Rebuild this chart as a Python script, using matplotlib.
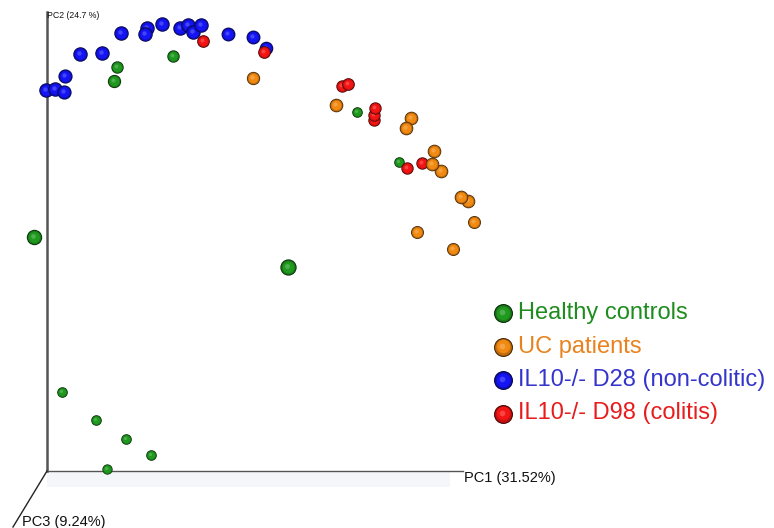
import matplotlib
matplotlib.use("Agg")
import matplotlib.pyplot as plt
from matplotlib.colors import to_rgb
from matplotlib.transforms import offset_copy
import numpy as np

plt.rcParams['font.family'] = ['Liberation Sans', 'DejaVu Sans']

# projected PCoA coordinates (PC1, PC2) and depth (PC3) for each group
healthy_pc1 = [-13, 241, 70, 67, 126, 310, 352, 15, 49, 79, 104, 60]
healthy_pc2 = [234, 204, 404, 390, 415, 359, 309, 79, 51, 32, 16, 2]
healthy_pc3 = [1.3, 1.6, 0.3, 0.6, 0.3, -0.3, -0.3, -0.3, -0.3, -0.3, -0.3, -0.4]

uc_pc1 = [206, 289, 364, 359, 387, 394, 385, 421, 414, 427, 370, 406]
uc_pc2 = [393, 366, 353, 343, 320, 300, 307, 270, 274, 249, 239, 222]
uc_pc3 = [0.6, 0.7, 0.7, 0.7, 0.7, 0.7, 0.7, 0.7, 0.7, 0.5, 0.5, 0.5]

d28_pc1 = [74, 100, 98, 115, 133, 141, 146, 154, 181, 206, 219, 33, 55, 18, -1, 8, 17]
d28_pc2 = [438, 443, 437, 447, 443, 446, 439, 446, 437, 434, 423, 417, 418, 395, 381, 382, 379]
d28_pc3 = [1, 1, 1, 1, 1, 1, 1, 1, 0.8, 0.8, 0.7, 1, 1, 0.9, 1, 1, 0.9]

d98_pc1 = [156, 217, 295, 301, 327, 327, 328, 360, 375]
d98_pc2 = [430, 419, 385, 387, 351, 356, 363, 303, 308]
d98_pc3 = [0.4, 0.4, 0.3, 0.4, 0.3, 0.3, 0.3, 0.3, 0.3]

groups = ["Healthy controls", "UC patients", "IL10-/- D28 (non-colitic)", "IL10-/- D98 (colitis)"]
ball_colors = ["#1f9a1f", "#f28a12", "#1414f5", "#f51414"]
text_colors = ["#1e8c1e", "#e8821e", "#3535cc", "#e81c1c"]


def shade(c, f):
    r = np.array(to_rgb(c))
    return tuple(r * f) if f < 1 else tuple(r + (1 - r) * (f - 1))


def spheres(ax, x, y, diam_px, color, zorder=3):
    # fake 3D ball: dark rim, body, soft highlight up-left
    d = np.asarray(diam_px) * 0.72
    ax.scatter(x, y, s=d ** 2, color=shade(color, 0.3), lw=0, zorder=zorder)
    ax.scatter(x, y, s=(d * 0.88) ** 2, color=shade(color, 0.8), lw=0, zorder=zorder)
    tr = offset_copy(ax.transData, fig=ax.figure, x=-0.3, y=0.3, units="points")
    ax.scatter(x, y, s=(d * 0.7) ** 2, color=color, lw=0, zorder=zorder, transform=tr)
    tr2 = offset_copy(ax.transData, fig=ax.figure, x=-0.5, y=0.5, units="points")
    ax.scatter(x, y, s=(d * 0.3) ** 2, color=shade(color, 1.3), lw=0,
               zorder=zorder, transform=tr2, alpha=0.7)


fig = plt.figure(figsize=(7.74, 5.28), dpi=100)
ax = fig.add_axes([0, 0, 1, 1])
ax.set_xlim(-47, 727)
ax.set_ylim(-57, 471)
ax.axis("off")

# axes of the 3D box
ax.fill_between([0, 403], -16, 0, color="#f4f6f9", lw=0, zorder=0)
ax.plot([0, 0], [0, 459], color="#555555", lw=1.8, zorder=1)
ax.plot([0, 416], [0, 0], color="#555555", lw=1.0, zorder=1)
ax.plot([0, -34], [0, -56], color="#222222", lw=1.0, zorder=1)
ax.text(0, 455, "PC2 (24.7 %)", fontsize=6.3, va="center", ha="left", color="#111111")
ax.text(417, -7, "PC1 (31.52%)", fontsize=10.5, va="center", ha="left", color="#111111")
ax.text(-25, -51, "PC3 (9.24%)", fontsize=10.5, va="center", ha="left", color="#111111")

data = [
    (healthy_pc1, healthy_pc2, healthy_pc3),
    (uc_pc1, uc_pc2, uc_pc3),
    (d28_pc1, d28_pc2, d28_pc3),
    (d98_pc1, d98_pc2, d98_pc3),
]
# draw back to front: blue, green, red, orange
for z, gi in enumerate([2, 0, 3, 1]):
    x, y, z3 = data[gi]
    for k in range(len(x)):
        spheres(ax, [x[k]], [y[k]], [11.5 + 3 * z3[k]], ball_colors[gi], zorder=3 + z)

# legend
for i, (lab, bc, tc) in enumerate(zip(groups, ball_colors, text_colors)):
    yy = 158 - 33.5 * i
    spheres(ax, [456], [yy], [19], bc, zorder=10)
    ax.text(471, yy, lab, fontsize=17, color=tc, va="center", ha="left")

fig.savefig("out.png", dpi=100)
